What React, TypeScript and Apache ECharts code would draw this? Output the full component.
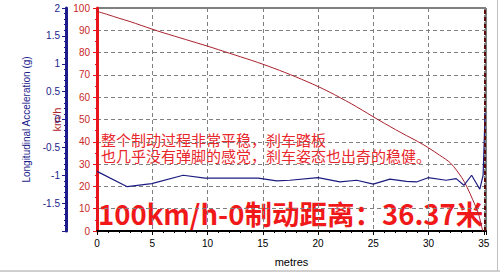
import React, { useEffect, useRef } from "react";
import * as echarts from "echarts";

const xTicks = [0, 5, 10, 15, 20, 25, 30, 35];
const speedKmh: [number, number][] = [
  [0, 98.5], [1, 97], [2, 95.4], [3, 93.9], [4, 92.2], [5, 90.5], [6, 88.9], [7, 87.4],
  [8, 85.9], [9, 84.4], [10, 82.9], [11, 81.3], [12, 79.7], [13, 78.1], [14, 76.5],
  [15, 74.8], [16, 73], [17, 71.1], [18, 69.1], [19, 67], [20, 64.8], [21, 62.4],
  [22, 59.8], [23, 57.1], [24, 54.2], [25, 51.2], [26, 48.3], [27, 45.5], [28, 42.8],
  [29, 40.2], [30, 37.3], [31, 34], [32, 30.4], [33, 24], [33.5, 19.5], [34, 14],
  [34.5, 8], [34.9, 0],
];
const accelG: [number, number][] = [
  [0, -0.93], [2.74, -1.205], [4.95, -1.15], [7.8, -1.0], [9.77, -1.05], [14.6, -1.05],
  [16.25, -1.1], [17.45, -1.09], [20.0, -1.044], [21.98, -1.12], [23.5, -1.09],
  [25.0, -1.16], [26.5, -1.07], [28.0, -1.11], [28.9, -1.12], [29.96, -1.044],
  [31.6, -1.09], [32.5, -1.06], [33.2, -1.18], [33.9, -1.0], [34.64, -1.25],
  [34.94, -1.0], [35.09, -0.06], [35.1, 0.12],
];
const endMarkerX = 35.1;
const noteLine1 = "整个制动过程非常平稳，刹车踏板";
const noteLine2 = "也几乎没有弹脚的感觉，刹车姿态也出奇的稳健。";
const headline = "100km/h-0制动距离：36.37米";

export default function App() {
  const ref = useRef<HTMLDivElement>(null);
  useEffect(() => {
    document.body.style.margin = "0";
    const chart = echarts.init(ref.current!, null, { renderer: "svg" });
    const lab = { fontFamily: "Liberation Sans", fontSize: 10 };
    chart.setOption({
      animation: false,
      backgroundColor: "#ffffff",
      grid: {
        left: 97, right: 14, top: 8, bottom: 43, show: true,
        borderColor: "#000", borderWidth: 1,
      },
      xAxis: {
        type: "value", min: 0, max: 35.2, interval: 5,
        name: "metres", nameLocation: "middle", nameGap: 25,
        nameTextStyle: { fontFamily: "Liberation Sans", fontSize: 11, color: "#000" },
        axisLine: { show: true, lineStyle: { color: "#000", width: 2 } },
        axisTick: { show: true, length: 4, lineStyle: { color: "#000" } },
        minorTick: { show: true, splitNumber: 5, length: 2, lineStyle: { color: "#000" } },
        axisLabel: {
          ...lab, color: "#000", margin: 7,
          formatter: (v: number) => (xTicks.includes(Math.round(v * 100) / 100) ? String(v) : ""),
        },
        splitLine: { show: true, lineStyle: { color: "#808080", type: [4, 3], width: 1 } },
      },
      yAxis: [
        {
          type: "value", min: 0, max: 100, interval: 10, position: "left",
          name: "km/h", nameLocation: "middle", nameGap: 35,
          nameTextStyle: { fontFamily: "Liberation Sans", fontSize: 11, color: "#b02828" },
          axisLine: { show: true, lineStyle: { color: "#e8141c", width: 3 } },
          axisTick: { show: true, length: 4, lineStyle: { color: "#e8141c" } },
          minorTick: { show: true, splitNumber: 2, length: 2, lineStyle: { color: "#e8141c" } },
          axisLabel: { ...lab, color: "#c82828", margin: 7 },
          splitLine: { show: true, lineStyle: { color: "#808080", type: [4, 3], width: 1 } },
        },
        {
          type: "value", min: -2, max: 2, interval: 0.5, position: "left", offset: 31,
          name: "Longitudinal Acceleration (g)", nameLocation: "middle", nameGap: 26,
          nameTextStyle: { fontFamily: "Liberation Sans", fontSize: 10, color: "#1c1c8c" },
          axisLine: { show: true, lineStyle: { color: "#1c1c8c", width: 3 } },
          axisTick: { show: true, length: 4, lineStyle: { color: "#1c1c8c" } },
          minorTick: { show: true, splitNumber: 5, length: 2, lineStyle: { color: "#1c1c8c" } },
          axisLabel: { ...lab, color: "#1c1c8c", margin: 6, showMinLabel: false },
          splitLine: { show: false },
        },
      ],
      series: [
        {
          type: "line", yAxisIndex: 0, data: speedKmh, symbol: "none", smooth: 0.3,
          lineStyle: { color: "#a8202c", width: 1 },
          markLine: {
            silent: true, symbol: "none", label: { show: false },
            lineStyle: { color: "#5a0a0a", type: [4, 3], width: 2 },
            data: [{ xAxis: endMarkerX }],
          },
        },
        {
          type: "line", yAxisIndex: 1, data: accelG, symbol: "none",
          lineStyle: { color: "#1c1c80", width: 1.2 },
        },
      ],
      graphic: [
        {
          type: "text", left: 101, top: 131,
          style: {
            text: noteLine1 + "\n" + noteLine2, fill: "#e8262b",
            font: "15px 'Noto Sans CJK SC'", lineHeight: 16,
          },
        },
        {
          type: "text", left: 98, top: 199,
          style: { text: headline, fill: "#f01818", font: "bold 27.5px 'Noto Sans CJK SC'", lineHeight: 28 },
        },
        {
          type: "line", shape: { x1: 0, y1: 271, x2: 500, y2: 271 },
          style: { stroke: "#a0a0a0", lineWidth: 1 },
        },
        {
          type: "line", shape: { x1: 497.5, y1: 0, x2: 497.5, y2: 271 },
          style: { stroke: "#c0c0c0", lineWidth: 1 },
        },
      ],
    });
    return () => chart.dispose();
  }, []);
  return (
    <div style={{ position: "fixed", left: 0, top: 0 }}>
      <div ref={ref} style={{ width: 500, height: 274 }} />
    </div>
  );
}
